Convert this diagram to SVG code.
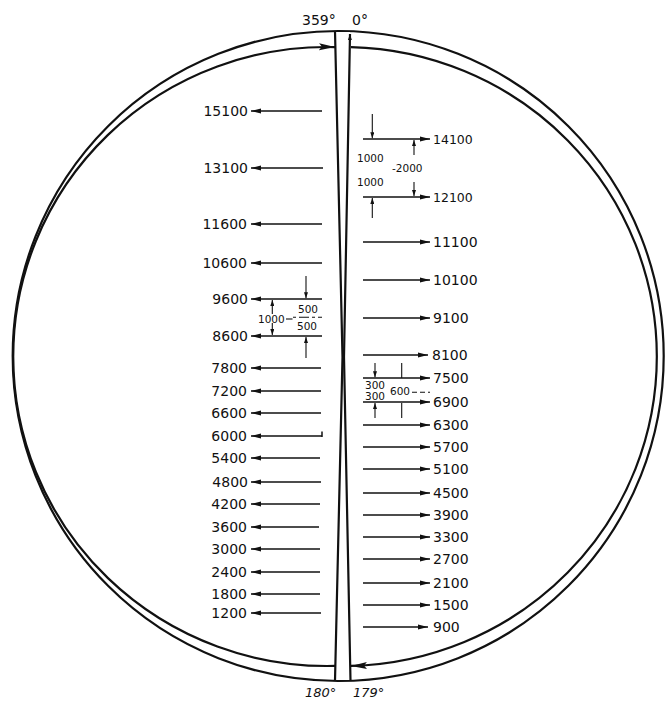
<svg xmlns="http://www.w3.org/2000/svg" width="665" height="705" viewBox="0 0 665 705">
<style>
.ln{stroke:#111;stroke-width:1.5;fill:none}
.thin{stroke:#111;stroke-width:1.1;fill:none}
.ring{stroke:#111;stroke-width:2.2;fill:none}
.lbl{font-family:"DejaVu Sans",sans-serif;font-size:14px;fill:#111}
.sm{font-family:"DejaVu Sans",sans-serif;font-size:12.5px;fill:#111}
.dim{font-family:"DejaVu Sans",sans-serif;font-size:10.5px;fill:#111}
.deg{font-family:"DejaVu Sans",sans-serif;font-size:14px;fill:#111}
.degi{font-family:"DejaVu Sans",sans-serif;font-size:13px;font-style:italic;fill:#111}
</style>
<defs>
<marker id="ah" markerUnits="userSpaceOnUse" viewBox="0 0 10 6" markerWidth="10" markerHeight="6" refX="10" refY="3" orient="auto"><path d="M0,0.6 L10,3 L0,5.4 Z" fill="#111"/></marker>
<marker id="as" markerUnits="userSpaceOnUse" viewBox="0 0 6 4" markerWidth="6" markerHeight="4" refX="6" refY="2" orient="auto"><path d="M0,0 L6,2 L0,4 Z" fill="#111"/></marker>
<marker id="ab" markerUnits="userSpaceOnUse" viewBox="0 0 16 8" markerWidth="16" markerHeight="8" refX="16" refY="4" orient="auto"><path d="M0,0.5 L16,4 L0,7.5 L3,4 Z" fill="#111"/></marker>
</defs>

<g id="ring">
<ellipse class="ring" cx="338.2" cy="356" rx="325.5" ry="325"/>
</g>

<g id="bar">
<rect x="336" y="32" width="14" height="648" fill="#fff" stroke="none"/>
</g>

<g id="connectors">
<path class="ring" d="M335,665.9 A313.8,309.5 0 1 1 335,47.1" marker-end="url(#ab)"/>
<path class="ring" d="M351,47.1 A313.8,309.5 0 0 1 351,665.9" marker-end="url(#ab)"/>
<polyline class="ring" points="335,31 342.5,357 335,681"/>
<polyline class="ring" points="350.5,681 344,357 350,34" marker-end="url(#as)"/>

<line class="ln" x1="322" y1="111" x2="251" y2="111" marker-end="url(#ah)"/>
<line class="ln" x1="323" y1="168" x2="251" y2="168" marker-end="url(#ah)"/>
<line class="ln" x1="322" y1="224" x2="251" y2="224" marker-end="url(#ah)"/>
<line class="ln" x1="322" y1="263" x2="251" y2="263" marker-end="url(#ah)"/>
<line class="ln" x1="322" y1="299" x2="251" y2="299" marker-end="url(#ah)"/>
<line class="ln" x1="322" y1="336" x2="251" y2="336" marker-end="url(#ah)"/>
<line class="ln" x1="321" y1="368" x2="251" y2="368" marker-end="url(#ah)"/>
<line class="ln" x1="321" y1="391" x2="251" y2="391" marker-end="url(#ah)"/>
<line class="ln" x1="321" y1="413" x2="251" y2="413" marker-end="url(#ah)"/>
<line class="ln" x1="322" y1="436" x2="251" y2="436" marker-end="url(#ah)"/>
<line class="ln" x1="322" y1="431.5" x2="322" y2="437"/>
<line class="ln" x1="320" y1="458" x2="251" y2="458" marker-end="url(#ah)"/>
<line class="ln" x1="321" y1="482" x2="251" y2="482" marker-end="url(#ah)"/>
<line class="ln" x1="320" y1="504" x2="251" y2="504" marker-end="url(#ah)"/>
<line class="ln" x1="319" y1="527" x2="251" y2="527" marker-end="url(#ah)"/>
<line class="ln" x1="320" y1="549" x2="251" y2="549" marker-end="url(#ah)"/>
<line class="ln" x1="320" y1="572" x2="251" y2="572" marker-end="url(#ah)"/>
<line class="ln" x1="320" y1="594" x2="251" y2="594" marker-end="url(#ah)"/>
<line class="ln" x1="321" y1="613" x2="251" y2="613" marker-end="url(#ah)"/>

<line class="ln" x1="363" y1="139" x2="430" y2="139" marker-end="url(#ah)"/>
<line class="ln" x1="363" y1="197" x2="430" y2="197" marker-end="url(#ah)"/>
<line class="ln" x1="363" y1="242" x2="430" y2="242" marker-end="url(#ah)"/>
<line class="ln" x1="363" y1="280" x2="430" y2="280" marker-end="url(#ah)"/>
<line class="ln" x1="363" y1="318" x2="430" y2="318" marker-end="url(#ah)"/>
<line class="ln" x1="363" y1="355" x2="428" y2="355" marker-end="url(#ah)"/>
<line class="ln" x1="363" y1="378" x2="430" y2="378" marker-end="url(#ah)"/>
<line class="ln" x1="363" y1="402" x2="430" y2="402" marker-end="url(#ah)"/>
<line class="ln" x1="363" y1="425" x2="430" y2="425" marker-end="url(#ah)"/>
<line class="ln" x1="363" y1="447" x2="430" y2="447" marker-end="url(#ah)"/>
<line class="ln" x1="363" y1="469" x2="430" y2="469" marker-end="url(#ah)"/>
<line class="ln" x1="363" y1="493" x2="430" y2="493" marker-end="url(#ah)"/>
<line class="ln" x1="363" y1="515" x2="430" y2="515" marker-end="url(#ah)"/>
<line class="ln" x1="363" y1="537" x2="430" y2="537" marker-end="url(#ah)"/>
<line class="ln" x1="363" y1="559" x2="430" y2="559" marker-end="url(#ah)"/>
<line class="ln" x1="363" y1="583" x2="430" y2="583" marker-end="url(#ah)"/>
<line class="ln" x1="363" y1="605" x2="430" y2="605" marker-end="url(#ah)"/>
<line class="ln" x1="363" y1="627" x2="428" y2="627" marker-end="url(#ah)"/>

<!-- dimension arrows, right top -->
<line class="thin" x1="372.3" y1="114" x2="372.3" y2="138.3" marker-end="url(#as)"/>
<line class="thin" x1="414" y1="155" x2="414" y2="140" marker-end="url(#as)"/>
<line class="thin" x1="414" y1="182" x2="414" y2="196" marker-end="url(#as)"/>
<line class="thin" x1="372.3" y1="218" x2="372.3" y2="198" marker-end="url(#as)"/>
<!-- dimension arrows, left -->
<line class="thin" x1="306" y1="276" x2="306" y2="298.3" marker-end="url(#as)"/>
<line class="thin" x1="272.3" y1="314" x2="272.3" y2="300" marker-end="url(#as)"/>
<line class="thin" x1="272.3" y1="323" x2="272.3" y2="335" marker-end="url(#as)"/>
<line class="thin" x1="306" y1="358" x2="306" y2="337" marker-end="url(#as)"/>
<line class="thin" x1="286" y1="319" x2="292.5" y2="319"/>
<line class="thin" x1="293" y1="317.3" x2="322" y2="317.3" stroke-dasharray="3,3,10,3"/>
<!-- dimension arrows, right middle -->
<line class="thin" x1="375" y1="363" x2="375" y2="377.3" marker-end="url(#as)"/>
<line class="thin" x1="401.7" y1="363" x2="401.7" y2="378"/>
<line class="thin" x1="375" y1="418" x2="375" y2="403" marker-end="url(#as)"/>
<line class="thin" x1="401.7" y1="403" x2="401.7" y2="418"/>
<line class="thin" x1="412" y1="392.3" x2="430" y2="392.3" stroke-dasharray="5,3"/>
</g>

<g id="degrees">
<text class="deg" x="302" y="25">359°</text>
<text class="deg" x="352" y="25">0°</text>
<text class="degi" x="305" y="697">180°</text>
<text class="degi" x="353" y="697">179°</text>
</g>

<g id="left-labels" text-anchor="end">
<g id="L15100"><text class="lbl" x="248" y="116">15100</text></g>
<g id="L13100"><text class="lbl" x="248" y="173">13100</text></g>
<g id="L11600"><text class="lbl" x="247" y="229">11600</text></g>
<g id="L10600"><text class="lbl" x="247" y="268">10600</text></g>
<g id="L9600"><text class="lbl" x="248" y="304">9600</text></g>
<g id="L8600"><text class="lbl" x="248" y="341">8600</text></g>
<g id="L7800"><text class="lbl" x="247" y="373">7800</text></g>
<g id="L7200"><text class="lbl" x="247" y="396">7200</text></g>
<g id="L6600"><text class="lbl" x="247" y="418">6600</text></g>
<g id="L6000"><text class="lbl" x="247" y="441">6000</text></g>
<g id="L5400"><text class="lbl" x="247" y="463">5400</text></g>
<g id="L4800"><text class="lbl" x="248" y="487">4800</text></g>
<g id="L4200"><text class="lbl" x="247" y="509">4200</text></g>
<g id="L3600"><text class="lbl" x="247" y="532">3600</text></g>
<g id="L3000"><text class="lbl" x="247" y="554">3000</text></g>
<g id="L2400"><text class="lbl" x="247" y="577">2400</text></g>
<g id="L1800"><text class="lbl" x="247" y="599">1800</text></g>
<g id="L1200"><text class="lbl" x="247" y="618">1200</text></g>
</g>

<g id="right-labels">
<g id="R14100"><text class="sm" x="433" y="143.5">14100</text></g>
<g id="R12100"><text class="sm" x="433" y="201.5">12100</text></g>
<g id="R11100"><text class="lbl" x="433" y="247">11100</text></g>
<g id="R10100"><text class="lbl" x="433" y="285">10100</text></g>
<g id="R9100"><text class="lbl" x="433" y="323">9100</text></g>
<g id="R8100"><text class="lbl" x="432" y="360">8100</text></g>
<g id="R7500"><text class="lbl" x="433" y="383">7500</text></g>
<g id="R6900"><text class="lbl" x="433" y="407">6900</text></g>
<g id="R6300"><text class="lbl" x="433" y="430">6300</text></g>
<g id="R5700"><text class="lbl" x="433" y="452">5700</text></g>
<g id="R5100"><text class="lbl" x="433" y="474">5100</text></g>
<g id="R4500"><text class="lbl" x="433" y="498">4500</text></g>
<g id="R3900"><text class="lbl" x="433" y="520">3900</text></g>
<g id="R3300"><text class="lbl" x="433" y="542">3300</text></g>
<g id="R2700"><text class="lbl" x="433" y="564">2700</text></g>
<g id="R2100"><text class="lbl" x="433" y="588">2100</text></g>
<g id="R1500"><text class="lbl" x="433" y="610">1500</text></g>
<g id="R900"><text class="lbl" x="433" y="632">900</text></g>
</g>

<g id="dimension-labels">
<text class="dim" x="357" y="161.5">1000</text>
<text class="dim" x="392" y="171.5">-2000</text>
<text class="dim" x="357" y="186">1000</text>
<text class="dim" x="258" y="323">1000</text>
<text class="dim" x="298" y="313.3" font-size="10">500</text>
<text class="dim" x="297" y="330" font-size="10">500</text>
<text class="dim" x="365" y="389">300</text>
<text class="dim" x="365" y="400">300</text>
<text class="dim" x="390" y="395">600</text>
</g>
</svg>
